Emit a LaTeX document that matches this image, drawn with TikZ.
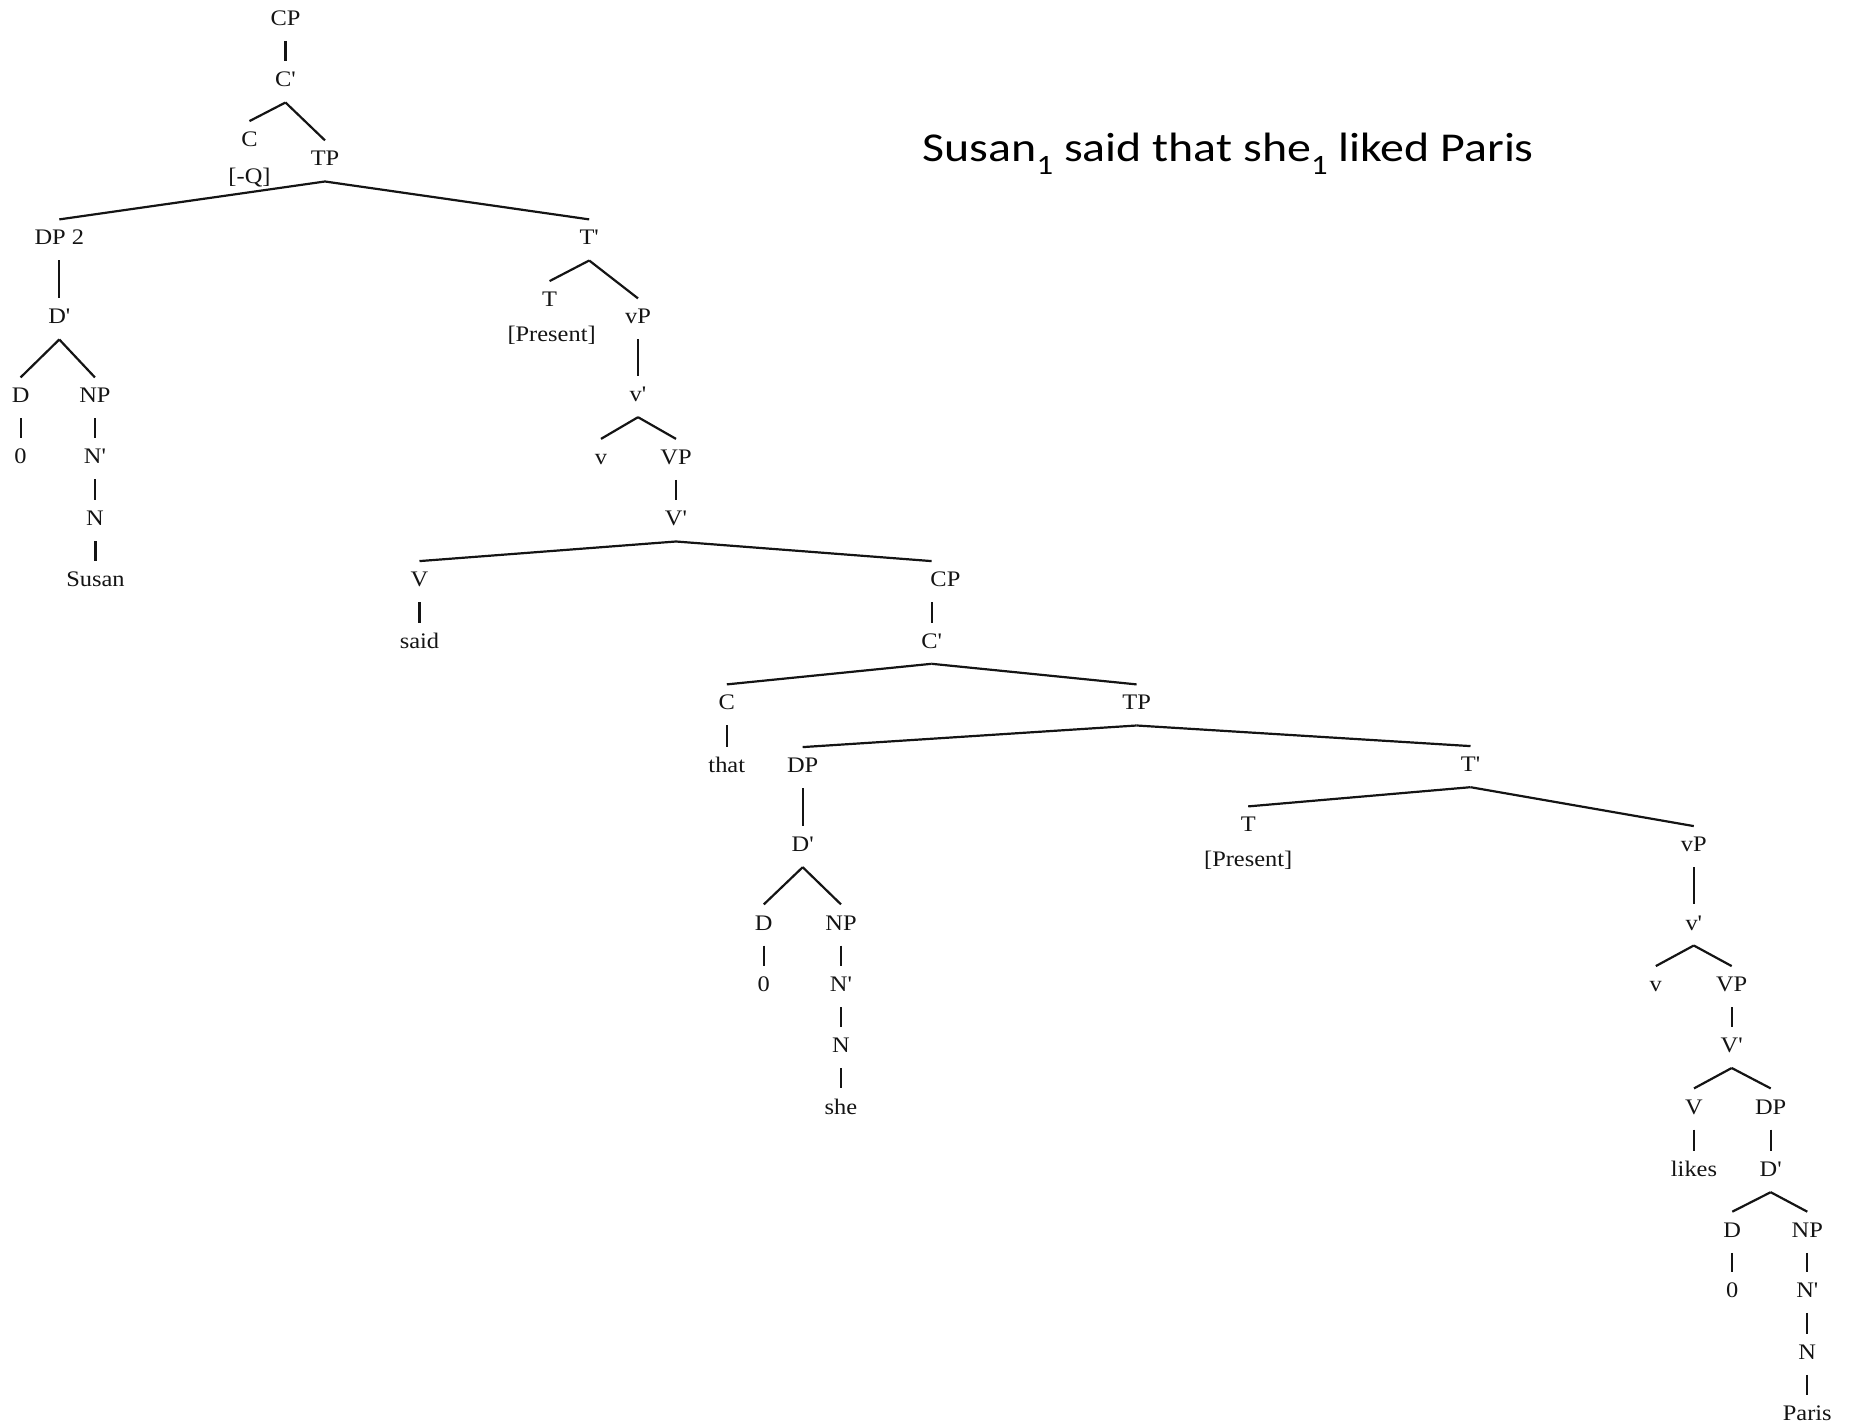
\documentclass[tikz,border=0pt]{standalone}
\usepackage{fontspec}
\usepackage{graphicx}
\newfontfamily\treefont{Liberation Serif}
\newfontfamily\sentfont{Carlito}
\usetikzlibrary{calc}
\tikzset{
  lbl/.style={anchor=base, inner sep=0pt, text height=7.35pt, text depth=0pt,
    font=\treefont\fontsize{11.1}{13}\selectfont, text=black!92},
  edge/.style={line width=1.1pt, draw=black!92},
}
\newcommand\lb[4]{\node[lbl] (#1) at (#2,#3) {\scalebox{1.1}[1]{#4}};}
\newcommand\br[2]{\draw[edge] ($(#1.base)+(0pt,-7.75pt)$) -- ($(#2.north)+(0pt,5.25pt)$);}
\newcommand\un[2]{\draw[edge] ($(#2.north |- #1.base)+(0pt,-7.75pt)$) -- ($(#2.north)+(0pt,5.25pt)$);}
\newcommand\subone{\raisebox{-6.6pt}{\fontsize{14}{14}\selectfont 1}}
\begin{document}
\begin{tikzpicture}[x=0.5pt,y=-0.5pt]
\useasboundingbox (0,0) rectangle (1854,1427);
% sentence
\node[anchor=base west, inner sep=0pt, font=\sentfont\fontsize{20.5}{24}\selectfont] (sent) at (922.3,161.7)
  {\resizebox{305.5pt}{\height}{Susan\subone{} said that she\subone{} liked Paris}};
% top tree
\lb{cp0}{285.5}{25.5}{CP}
\lb{cb0}{285.5}{87}{C'}
\lb{c0}{249.5}{146.7}{C}
\lb{q0}{249.5}{183.5}{[-Q]}
\lb{tp0}{325}{166}{TP}
\lb{dp2}{59.3}{245}{DP 2}
\lb{tb0}{589.2}{245}{T'}
\lb{db1}{59.3}{324}{D'}
\lb{d1}{20.6}{403}{D}
\lb{np1}{94.9}{403}{NP}
\lb{z1}{20.6}{464}{0}
\lb{nb1}{94.9}{464}{N'}
\lb{n1}{94.9}{526}{N}
\lb{susan}{95.5}{586.7}{Susan}
\lb{t0}{549.6}{306.7}{T}
\lb{pr0}{551.6}{341.5}{[Present]}
\lb{vp0}{638}{324}{vP}
\lb{vb0}{638}{401.7}{v'}
\lb{v0}{601}{464.5}{v}
\lb{VP0}{676}{464.5}{VP}
\lb{Vb0}{676}{526}{V'}
\lb{V0}{419.5}{586.7}{V}
\node[lbl] (cp1) at (931.6,586.7) {\makebox[0pt]{\hspace{13.8pt}\scalebox{1.1}[1]{CP}}};
\lb{said}{419.5}{648.3}{said}
\lb{cb1}{931.6}{648.3}{C'}
\lb{c1}{726.8}{710}{C}
\lb{tp1}{1136.6}{710}{TP}
\lb{that}{726.8}{772.7}{that}
\lb{dp1}{802.7}{772.7}{DP}
\lb{db2}{802.7}{851.7}{D'}
\lb{d2}{763.8}{930}{D}
\lb{np2}{841}{930}{NP}
\lb{z2}{763.8}{991.7}{0}
\lb{nb2}{841}{991.7}{N'}
\lb{n2}{841}{1052.7}{N}
\lb{she}{841}{1114}{she}
\lb{tb1}{1470.5}{771.7}{T'}
\lb{t1}{1248.2}{832}{T}
\lb{pr1}{1248.2}{866.5}{[Present]}
\lb{vp1}{1693.8}{851.7}{vP}
\lb{vb1}{1693.8}{930}{v'}
\lb{v1}{1655.8}{991.7}{v}
\lb{VP1}{1731.7}{991.7}{VP}
\lb{Vb1}{1731.7}{1052.5}{V'}
\lb{V1}{1694}{1114}{V}
\lb{dp3}{1770.7}{1114}{DP}
\lb{likes}{1694}{1176.7}{likes}
\lb{db3}{1770.7}{1176.7}{D'}
\lb{d3}{1732.3}{1237.3}{D}
\lb{np3}{1807.3}{1237.3}{NP}
\lb{z3}{1732.3}{1297.3}{0}
\lb{nb3}{1807.3}{1297.3}{N'}
\lb{n3}{1807.3}{1359.3}{N}
\lb{paris}{1807.3}{1420.7}{Paris}
% unary connectors
\un{cp0}{cb0} \un{dp2}{db1} \un{d1}{z1} \un{np1}{nb1} \un{nb1}{n1} \un{n1}{susan}
\un{vp0}{vb0} \un{VP0}{Vb0} \un{V0}{said} \un{cp1}{cb1} \un{c1}{that} \un{dp1}{db2}
\un{d2}{z2} \un{np2}{nb2} \un{nb2}{n2} \un{n2}{she} \un{vp1}{vb1} \un{VP1}{Vb1}
\un{V1}{likes} \un{dp3}{db3} \un{d3}{z3} \un{np3}{nb3} \un{nb3}{n3} \un{n3}{paris}
% branches
\br{cb0}{c0} \br{cb0}{tp0} \br{tp0}{dp2} \br{tp0}{tb0} \br{db1}{d1} \br{db1}{np1}
\br{tb0}{t0} \br{tb0}{vp0} \br{vb0}{v0} \br{vb0}{VP0} \br{Vb0}{V0} \br{Vb0}{cp1}
\br{cb1}{c1} \br{cb1}{tp1} \br{tp1}{dp1} \br{tp1}{tb1} \br{db2}{d2} \br{db2}{np2}
\br{tb1}{t1} \br{tb1}{vp1} \br{vb1}{v1} \br{vb1}{VP1} \br{Vb1}{V1} \br{Vb1}{dp3}
\br{db3}{d3} \br{db3}{np3}
\end{tikzpicture}
\end{document}
